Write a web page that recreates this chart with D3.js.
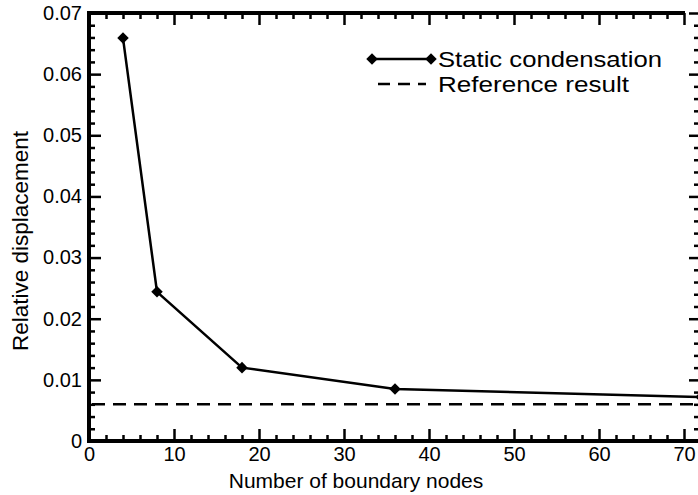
<!DOCTYPE html>
<html>
<head>
<meta charset="utf-8">
<script src="https://cdn.jsdelivr.net/npm/d3@7"></script>
<style>
  body { margin: 0; background: #fff; }
  text { font-family: "Liberation Sans", Arial, sans-serif; fill: #000; }
</style>
</head>
<body>
<div id="chart"></div>
<script>
// values
const nodes = [4, 8, 18, 36, 72];
const displacement = [0.0659, 0.0244, 0.0120, 0.0085, 0.0072];
const referenceResult = 0.0060;
const xTicks = [0, 10, 20, 30, 40, 50, 60, 70];
const yTicks = [0, 0.01, 0.02, 0.03, 0.04, 0.05, 0.06, 0.07];
const yTickLabels = ["0", "0.01", "0.02", "0.03", "0.04", "0.05", "0.06", "0.07"];
const legendLabels = ["Static condensation", "Reference result"];

const W = 698, H = 495;
const svg = d3.select("#chart").append("svg")
    .attr("width", W).attr("height", H);

const x = d3.scaleLinear().domain([0, 72]).range([89, 701]);
const y = d3.scaleLinear().domain([0, 0.07]).range([441, 13]);

const xMinor = d3.range(0, 73, 2).filter(function(v) { return v % 10 !== 0; });
const yMinor = d3.range(0, 0.0701, 0.002).filter(function(v) {
    return Math.abs(Math.round(v * 100) - v * 100) > 1e-6;
});

function styleAxis(g) {
    g.select(".domain").remove();
    g.selectAll(".tick line").attr("stroke", "#000").attr("stroke-width", 2.5);
    g.selectAll(".tick text")
        .style("font-family", "'Liberation Sans', Arial, sans-serif")
        .style("font-size", "20px").attr("fill", "#000");
}

// left axis
svg.append("g").attr("transform", "translate(" + x(0) + ",0)")
    .call(d3.axisLeft(y).tickValues(yTicks).tickSize(-12).tickPadding(7)
        .tickFormat(function(d, i) { return yTickLabels[i]; }))
    .call(styleAxis);
svg.append("g").attr("transform", "translate(" + x(0) + ",0)")
    .call(d3.axisLeft(y).tickValues(yMinor).tickSize(-6).tickFormat(""))
    .call(styleAxis);

// right axis (mostly cut off)
svg.append("g").attr("transform", "translate(" + x(72) + ",0)")
    .call(d3.axisRight(y).tickValues(yTicks).tickSize(-12).tickFormat(""))
    .call(styleAxis);
svg.append("g").attr("transform", "translate(" + x(72) + ",0)")
    .call(d3.axisRight(y).tickValues(yMinor).tickSize(-7).tickFormat(""))
    .call(styleAxis);

// bottom axis
svg.append("g").attr("transform", "translate(0," + y(0) + ")")
    .call(d3.axisBottom(x).tickValues(xTicks).tickSize(-12).tickPadding(6))
    .call(styleAxis);
svg.append("g").attr("transform", "translate(0," + y(0) + ")")
    .call(d3.axisBottom(x).tickValues(xMinor).tickSize(-6).tickFormat(""))
    .call(styleAxis);

// top axis
svg.append("g").attr("transform", "translate(0," + y(0.07) + ")")
    .call(d3.axisTop(x).tickValues(xTicks).tickSize(-12).tickFormat(""))
    .call(styleAxis);
svg.append("g").attr("transform", "translate(0," + y(0.07) + ")")
    .call(d3.axisTop(x).tickValues(xMinor.filter(function(v) { return v < 70; }))
        .tickSize(-6).tickFormat(""))
    .call(styleAxis);

// frame lines
svg.append("line").attr("x1", x(0)).attr("x2", W)
    .attr("y1", y(0)).attr("y2", y(0))
    .attr("stroke", "#000").attr("stroke-width", 4);
svg.append("line").attr("x1", x(0)).attr("x2", x(0))
    .attr("y1", y(0) + 2).attr("y2", y(0.07) - 2)
    .attr("stroke", "#000").attr("stroke-width", 4);
svg.append("line").attr("x1", x(0)).attr("x2", x(70) + 1)
    .attr("y1", y(0.07)).attr("y2", y(0.07))
    .attr("stroke", "#000").attr("stroke-width", 4);

// reference result
svg.append("line")
    .attr("x1", x(0) + 3).attr("x2", W)
    .attr("y1", y(referenceResult)).attr("y2", y(referenceResult))
    .attr("stroke", "#000").attr("stroke-width", 2.5)
    .attr("stroke-dasharray", "13,8");

// static condensation
const pts = nodes.map(function(n, i) { return {x: n, y: displacement[i]}; });
svg.append("path").datum(pts)
    .attr("fill", "none").attr("stroke", "#000").attr("stroke-width", 2.5)
    .attr("d", d3.line().x(function(d) { return x(d.x); }).y(function(d) { return y(d.y); }));

const diamond = d3.symbol().type(d3.symbolDiamond2).size(85);
svg.selectAll(".pt").data(pts).enter().append("path")
    .attr("class", "pt")
    .attr("transform", function(d) { return "translate(" + x(d.x) + "," + y(d.y) + ")"; })
    .attr("d", diamond).attr("fill", "#000");

// legend
const leg = svg.append("g");
leg.append("line").attr("x1", 372).attr("x2", 431).attr("y1", 59).attr("y2", 59)
    .attr("stroke", "#000").attr("stroke-width", 2.5);
leg.selectAll(".lm").data([372, 431]).enter().append("path")
    .attr("transform", function(d) { return "translate(" + d + ",59)"; })
    .attr("d", diamond).attr("fill", "#000");
leg.append("line").attr("x1", 378).attr("x2", 426).attr("y1", 84).attr("y2", 84)
    .attr("stroke", "#000").attr("stroke-width", 2.5)
    .attr("stroke-dasharray", "12,8");
leg.selectAll(".lt").data(legendLabels).enter().append("text")
    .attr("x", 438).attr("y", function(d, i) { return 67 + i * 25; })
    .attr("textLength", function(d, i) { return i === 0 ? 224 : 191; })
    .attr("lengthAdjust", "spacingAndGlyphs")
    .style("font-size", "22px")
    .text(function(d) { return d; });

// axis titles
svg.append("text")
    .attr("x", 356).attr("y", 488)
    .attr("text-anchor", "middle")
    .style("font-size", "21px")
    .text("Number of boundary nodes");
svg.append("text")
    .attr("transform", "translate(28,241) rotate(-90)")
    .attr("text-anchor", "middle")
    .style("font-size", "22.5px")
    .text("Relative displacement");
</script>
</body>
</html>
